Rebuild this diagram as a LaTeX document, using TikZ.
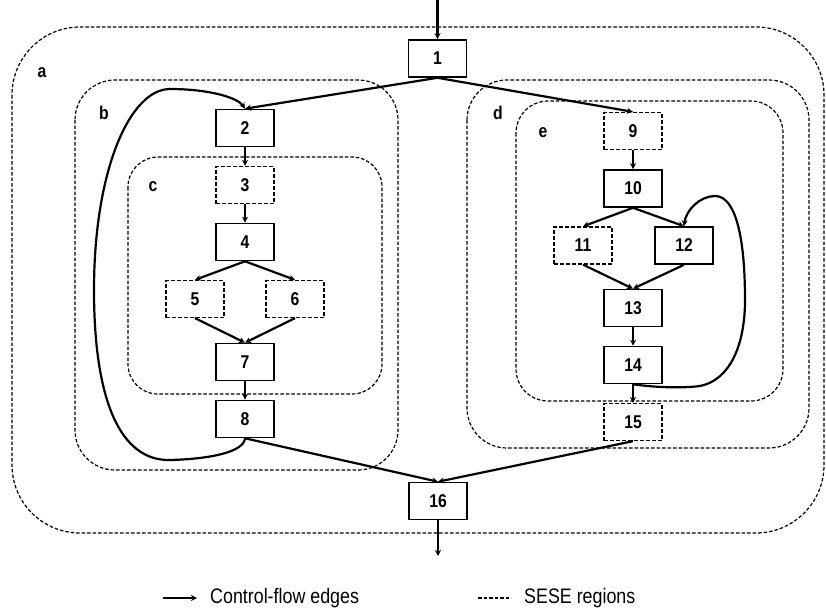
\documentclass[tikz,border=0pt]{standalone}
\usepackage{fontspec}
\setmainfont{Liberation Sans}[FakeStretch=0.85]
\usetikzlibrary{arrows.meta}
\begin{document}
\begin{tikzpicture}[x=1pt,y=-1pt,
 blk/.style={draw, line width=1.6pt, minimum width=58pt, minimum height=37pt, inner sep=0pt, font=\fontsize{18.5}{18.5}\selectfont\bfseries},
 dblk/.style={blk, line width=1.3pt, dash pattern=on 4pt off 2pt},
 edge/.style={line width=2.2pt, -{Stealth[length=6pt,width=6pt]}},
 region/.style={draw, line width=1.2pt, dash pattern=on 3.5pt off 2pt},
 lab/.style={font=\fontsize{18.5}{18.5}\selectfont\bfseries},
 legtext/.style={anchor=west, inner sep=0pt, font=\fontsize{21}{21}\selectfont}]
\useasboundingbox (0,0) rectangle (826,614);
% regions
\draw[region, rounded corners=68pt] (12,27) rectangle (824,533);
\draw[region, rounded corners=40pt] (75,80) rectangle (398,470);
\draw[region, rounded corners=30pt] (128,157) rectangle (382,394);
\draw[region, rounded corners=40pt] (467,80) rectangle (809,448);
\draw[region, rounded corners=32pt] (516,101) rectangle (783,401);
\node[lab] (la) at (42,73) {a};
\node[lab] (lb) at (104,113) {b};
\node[lab] (lc) at (153,187) {c};
\node[lab] (ld) at (498,113) {d};
\node[lab] (le) at (543,133) {e};
% blocks
\node[blk] (n1) at (437.5,58.5) {1};
\node[blk] (n2) at (245,128) {2};
\node[dblk] (n3) at (245,185) {3};
\node[blk] (n4) at (245,242) {4};
\node[dblk] (n5) at (195,299) {5};
\node[dblk] (n6) at (295,299) {6};
\node[blk] (n7) at (245,362) {7};
\node[blk] (n8) at (245,419) {8};
\node[dblk] (n9) at (633,131) {9};
\node[blk] (n10) at (633,188.5) {10};
\node[dblk] (n11) at (583,245.5) {11};
\node[blk] (n12) at (684,245.5) {12};
\node[blk] (n13) at (633,308) {13};
\node[blk] (n14) at (633,365) {14};
\node[dblk] (n15) at (633,422) {15};
\node[blk] (n16) at (438,501) {16};
% edges
\coordinate (in) at (437.5,0);
\coordinate (out) at (438,556);
\draw[edge] (in) -- (n1.north);
\draw[edge] (n1.south) -- (n2.north);
\draw[edge] (n1.south) -- (n9.north);
\draw[edge] (n2.south) -- (n3.north);
\draw[edge] (n3.south) -- (n4.north);
\draw[edge] (n4.south) -- (n5.north);
\draw[edge] (n4.south) -- (n6.north);
\draw[edge] (n5.south) -- (n7.north);
\draw[edge] (n6.south) -- (n7.north);
\draw[edge] (n7.south) -- (n8.north);
\draw[edge] (n8.south) -- (n16.north);
\draw[edge] (n9.south) -- (n10.north);
\draw[edge] (n10.south) -- (n11.north);
\draw[edge] (n10.south) -- (n12.north);
\draw[edge] (n11.south) -- (n13.north);
\draw[edge] (n12.south) -- (n13.north);
\draw[edge] (n13.south) -- (n14.north);
\draw[edge] (n14.south) -- (n15.north);
\draw[edge] (n15.south) -- (n16.north);
\draw[edge] (n16.south) -- (out);
% loops
\draw[edge] (n8.south) .. controls (244,452) and (210,459) .. (170,460)
  .. controls (120,461) and (94,400) .. (94,290)
  .. controls (94,170) and (130,89) .. (170,89)
  .. controls (210,89) and (238,98) .. (n2.north);
\draw[edge] (n14.south) .. controls (660,388) and (685,388) .. (700,386)
  .. controls (730,380) and (745,345) .. (745,300)
  .. controls (745,235) and (735,196) .. (715,196)
  .. controls (700,196) and (686,210) .. (n12.north);
% legend
\coordinate (l1) at (163,598);
\coordinate (l2) at (197,598);
\draw[edge, line width=1.8pt] (l1) -- (l2);
\node[legtext] (t1) at (210,598) {Control-flow edges};
\coordinate (l3) at (478,598);
\coordinate (l4) at (511,598);
\draw[region] (l3) -- (l4);
\node[legtext] (t2) at (524,598) {SESE regions};
\end{tikzpicture}
\end{document}
